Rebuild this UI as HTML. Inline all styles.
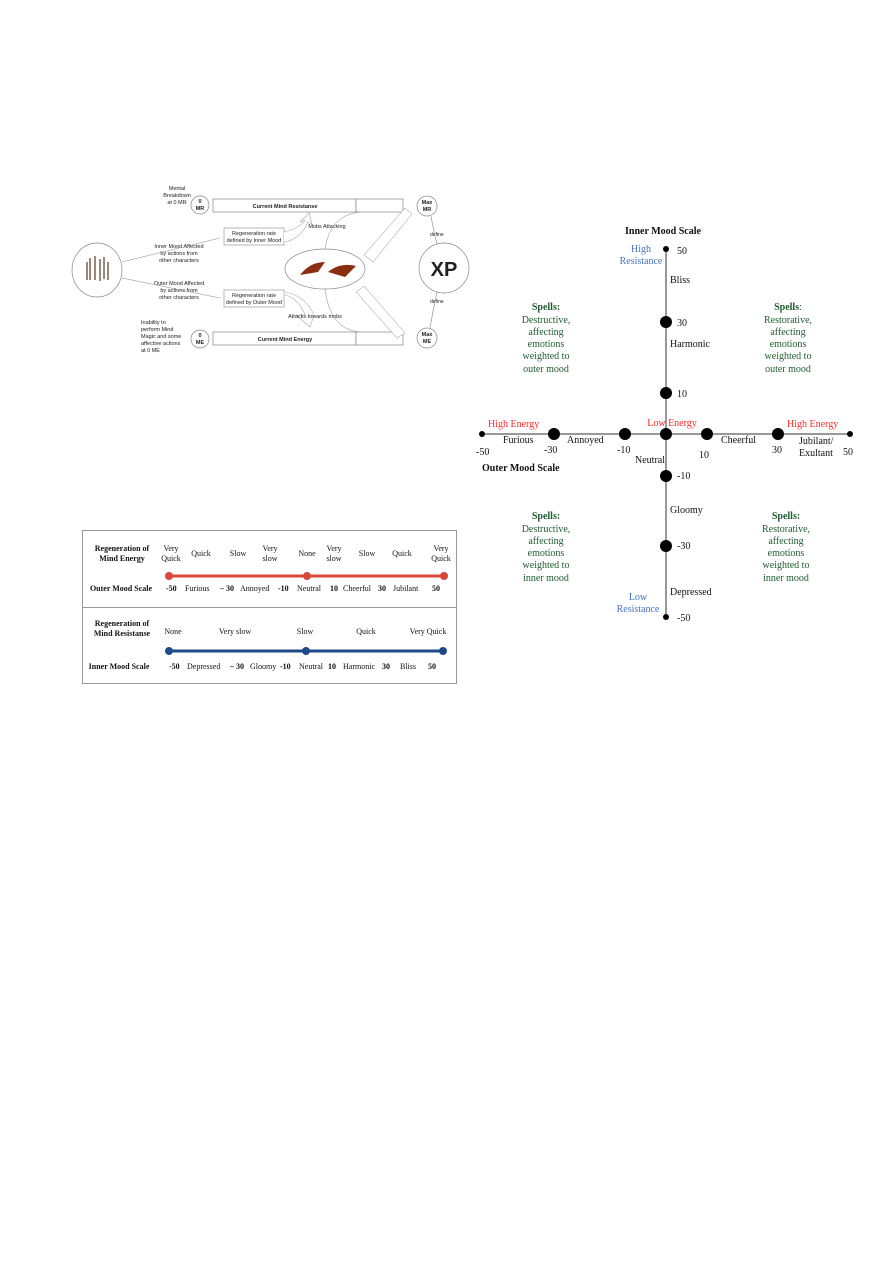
<!DOCTYPE html>
<html><head><style>body{margin:0;background:#fff}svg{display:block}</style></head>
<body>
<svg width="893" height="1263" viewBox="0 0 893 1263" xmlns="http://www.w3.org/2000/svg" font-family="Liberation Sans, sans-serif">
<g font-size="5.5" fill="#222">
<rect x="213" y="199" width="143" height="13" fill="#fff" stroke="#888" stroke-width="0.7"/>
<rect x="356" y="199" width="47" height="13" fill="#fff" stroke="#888" stroke-width="0.7"/>
<text x="285" y="208" text-anchor="middle" font-weight="bold">Current Mind Resistanse</text>
<rect x="213" y="332" width="143" height="13" fill="#fff" stroke="#888" stroke-width="0.7"/>
<rect x="356" y="332" width="47" height="13" fill="#fff" stroke="#888" stroke-width="0.7"/>
<text x="285" y="341" text-anchor="middle" font-weight="bold">Current Mind Energy</text>
<circle cx="200" cy="205" r="9" fill="#fff" stroke="#888" stroke-width="0.7"/>
<text x="200" y="203" text-anchor="middle" font-weight="bold">0</text><text x="200" y="210" text-anchor="middle" font-weight="bold">MR</text>
<circle cx="200" cy="339" r="9" fill="#fff" stroke="#888" stroke-width="0.7"/>
<text x="200" y="337" text-anchor="middle" font-weight="bold">0</text><text x="200" y="344" text-anchor="middle" font-weight="bold">ME</text>
<circle cx="427" cy="206" r="10" fill="#fff" stroke="#888" stroke-width="0.7"/>
<text x="427" y="204" text-anchor="middle" font-weight="bold">Max</text><text x="427" y="211" text-anchor="middle" font-weight="bold">MR</text>
<circle cx="427" cy="338" r="10" fill="#fff" stroke="#888" stroke-width="0.7"/>
<text x="427" y="336" text-anchor="middle" font-weight="bold">Max</text><text x="427" y="343" text-anchor="middle" font-weight="bold">ME</text>
<circle cx="444" cy="268" r="25" fill="#fff" stroke="#888" stroke-width="0.7"/>
<text x="444" y="276" text-anchor="middle" font-size="20" font-weight="bold">XP</text>
<text x="430" y="236" font-size="5">define</text><text x="430" y="303" font-size="5">define</text>
<path d="M437 244 Q433 228 431 216 M437 292 Q433 310 430 328" fill="none" stroke="#888" stroke-width="0.6"/>
<ellipse cx="97" cy="270" rx="25" ry="27" fill="#fff" stroke="#888" stroke-width="0.7"/>
<g stroke="#5a3a20" stroke-width="1.2"><path d="M90 258v22M95 256v24M100 259v22M104 257v22M87 262v18M108 262v18"/></g>
<ellipse cx="325" cy="269" rx="40" ry="20" fill="#fff" stroke="#888" stroke-width="0.7"/>
<path d="M300 275 Q310 262 325 262 L318 272 Z M328 272 Q340 262 356 266 L345 277 Z" fill="#8b2e10"/>
<rect x="224" y="228" width="60" height="17" fill="#fff" stroke="#888" stroke-width="0.6"/>
<text x="254" y="235" text-anchor="middle">Regeneration rate</text><text x="254" y="242" text-anchor="middle">defined by Inner Mood</text>
<rect x="224" y="290" width="60" height="17" fill="#fff" stroke="#888" stroke-width="0.6"/>
<text x="254" y="297" text-anchor="middle">Regeneration rate</text><text x="254" y="304" text-anchor="middle">defined by Outer Mood</text>
<path d="M284 232 Q300 228 305 220 L300 222 L309 213 L312 224 L308 222 Q300 240 284 242" fill="#fff" stroke="#aaa" stroke-width="0.6"/>
<path d="M284 294 Q300 300 305 315 L296 315 L310 327 L314 315 Q305 295 284 292" fill="#fff" stroke="#aaa" stroke-width="0.6"/>
<text x="177" y="190" text-anchor="middle">Mental</text><text x="177" y="197" text-anchor="middle">Breakdown</text><text x="177" y="204" text-anchor="middle">at 0 MR</text>
<text x="179" y="248" text-anchor="middle">Inner Mood Affected</text><text x="179" y="255" text-anchor="middle">by actions from</text><text x="179" y="262" text-anchor="middle">other characters</text>
<text x="179" y="285" text-anchor="middle">Outer Mood Affected</text><text x="179" y="292" text-anchor="middle">by actions from</text><text x="179" y="299" text-anchor="middle">other characters</text>
<text x="141" y="324">Inability to</text><text x="141" y="331">perform Mind</text><text x="141" y="338">Magic and some</text><text x="141" y="345">affective actions</text><text x="141" y="352">at 0 ME</text>
<text x="327" y="228" text-anchor="middle">Mobs Attacking</text>
<text x="315" y="318" text-anchor="middle">Attacks towards mobs</text>
<path d="M122 262 L220 238 M122 278 L220 298" stroke="#888" stroke-width="0.5" fill="none"/>
<path d="M325 249 Q330 215 360 212 M325 289 Q330 330 360 332" stroke="#888" stroke-width="0.5" fill="none"/>
<path d="M364 255 L405 208 L412 214 L373 262 Z" fill="#fff" stroke="#888" stroke-width="0.5"/>
<path d="M364 286 L405 333 L397 338 L356 292 Z" fill="#fff" stroke="#888" stroke-width="0.5"/>
</g>
<rect x="82.5" y="530.5" width="374" height="153" fill="none" stroke="#999"/>
<line x1="82" y1="607.5" x2="457" y2="607.5" stroke="#999"/>
<g font-family="Liberation Serif, serif" font-size="8" fill="#111">
<text x="122" y="551" text-anchor="middle" font-weight="bold">Regeneration of</text><text x="122" y="561" text-anchor="middle" font-weight="bold">Mind Energy</text>
<text x="121" y="591" text-anchor="middle" font-weight="bold">Outer Mood Scale</text>
<g text-anchor="middle">
<text x="171" y="551">Very</text><text x="171" y="561">Quick</text>
<text x="201" y="556">Quick</text><text x="238" y="556">Slow</text>
<text x="270" y="551">Very</text><text x="270" y="561">slow</text>
<text x="307" y="556">None</text>
<text x="334" y="551">Very</text><text x="334" y="561">slow</text>
<text x="367" y="556">Slow</text><text x="402" y="556">Quick</text>
<text x="441" y="551">Very</text><text x="441" y="561">Quick</text>
</g>
<line x1="169" y1="576" x2="444" y2="576" stroke="#d9463a" stroke-width="3"/>
<circle cx="169" cy="576" r="4" fill="#d9463a"/><circle cx="307" cy="576" r="4" fill="#d9463a"/><circle cx="444" cy="576" r="4" fill="#d9463a"/>
<text x="166" y="591" font-weight="bold">-50</text><text x="185" y="591">Furious</text><text x="220" y="591" font-weight="bold">– 30</text><text x="240" y="591">Annoyed</text><text x="278" y="591" font-weight="bold">-10</text><text x="297" y="591">Neutral</text><text x="330" y="591" font-weight="bold">10</text><text x="343" y="591">Cheerful</text><text x="378" y="591" font-weight="bold">30</text><text x="393" y="591">Jubilant</text><text x="432" y="591" font-weight="bold">50</text>
<text x="122" y="626" text-anchor="middle" font-weight="bold">Regeneration of</text><text x="122" y="636" text-anchor="middle" font-weight="bold">Mind Resistanse</text>
<text x="119" y="669" text-anchor="middle" font-weight="bold">Inner Mood Scale</text>
<g text-anchor="middle"><text x="173" y="634">None</text><text x="235" y="634">Very slow</text><text x="305" y="634">Slow</text><text x="366" y="634">Quick</text><text x="428" y="634">Very Quick</text></g>
<line x1="169" y1="651" x2="443" y2="651" stroke="#1f4a88" stroke-width="3"/>
<circle cx="169" cy="651" r="4" fill="#1f4a88"/><circle cx="306" cy="651" r="4" fill="#1f4a88"/><circle cx="443" cy="651" r="4" fill="#1f4a88"/>
<text x="169" y="669" font-weight="bold">-50</text><text x="187" y="669">Depressed</text><text x="230" y="669" font-weight="bold">– 30</text><text x="250" y="669">Gloomy</text><text x="280" y="669" font-weight="bold">-10</text><text x="299" y="669">Neutral</text><text x="328" y="669" font-weight="bold">10</text><text x="343" y="669">Harmonic</text><text x="382" y="669" font-weight="bold">30</text><text x="400" y="669">Bliss</text><text x="428" y="669" font-weight="bold">50</text>
</g>
<g font-family="Liberation Serif, serif" font-size="10" fill="#111">
<line x1="666" y1="249" x2="666" y2="617" stroke="#333" stroke-width="1"/>
<line x1="482" y1="434" x2="850" y2="434" stroke="#333" stroke-width="1"/>
<g fill="#000">
<circle cx="482" cy="434" r="3"/><circle cx="850" cy="434" r="3"/><circle cx="666" cy="249" r="3"/><circle cx="666" cy="617" r="3"/>
<circle cx="554" cy="434" r="6"/><circle cx="625" cy="434" r="6"/><circle cx="666" cy="434" r="6"/><circle cx="707" cy="434" r="6"/><circle cx="778" cy="434" r="6"/>
<circle cx="666" cy="322" r="6"/><circle cx="666" cy="393" r="6"/><circle cx="666" cy="476" r="6"/><circle cx="666" cy="546" r="6"/>
</g>
<text x="625" y="234" font-weight="bold">Inner Mood Scale</text>
<text x="677" y="254">50</text><text x="677" y="326">30</text><text x="677" y="397">10</text>
<text x="677" y="479">-10</text><text x="677" y="549">-30</text><text x="677" y="621">-50</text>
<text x="670" y="283">Bliss</text><text x="670" y="347">Harmonic</text><text x="670" y="513">Gloomy</text><text x="670" y="595">Depressed</text>
<text x="650" y="463" text-anchor="middle">Neutral</text>
<g fill="#4472c4" text-anchor="middle"><text x="641" y="252">High</text><text x="641" y="264">Resistance</text><text x="638" y="600">Low</text><text x="638" y="612">Resistance</text></g>
<g fill="#ff2a2a"><text x="488" y="427">High Energy</text><text x="672" y="426" text-anchor="middle">Low Energy</text><text x="787" y="427">High Energy</text></g>
<text x="476" y="455">-50</text><text x="544" y="453">-30</text><text x="617" y="453">-10</text><text x="699" y="458">10</text><text x="772" y="453">30</text><text x="843" y="455">50</text>
<text x="503" y="443">Furious</text><text x="567" y="443">Annoyed</text><text x="721" y="443">Cheerful</text>
<text x="799" y="444">Jubilant/</text><text x="799" y="456">Exultant</text>
<text x="482" y="471" font-weight="bold">Outer Mood Scale</text>
<g fill="#1e5c2e" text-anchor="middle">
<text x="546" y="310" font-weight="bold">Spells:</text><text x="546" y="323">Destructive,</text><text x="546" y="335">affecting</text><text x="546" y="347">emotions</text><text x="546" y="359">weighted to</text><text x="546" y="372">outer mood</text>
<text x="788" y="310"><tspan font-weight="bold">Spells</tspan>:</text><text x="788" y="323">Restorative,</text><text x="788" y="335">affecting</text><text x="788" y="347">emotions</text><text x="788" y="359">weighted to</text><text x="788" y="372">outer mood</text>
<text x="546" y="519" font-weight="bold">Spells:</text><text x="546" y="532">Destructive,</text><text x="546" y="544">affecting</text><text x="546" y="556">emotions</text><text x="546" y="568">weighted to</text><text x="546" y="581">inner mood</text>
<text x="786" y="519" font-weight="bold">Spells:</text><text x="786" y="532">Restorative,</text><text x="786" y="544">affecting</text><text x="786" y="556">emotions</text><text x="786" y="568">weighted to</text><text x="786" y="581">inner mood</text>
</g>
</g>
</svg>
</body></html>
